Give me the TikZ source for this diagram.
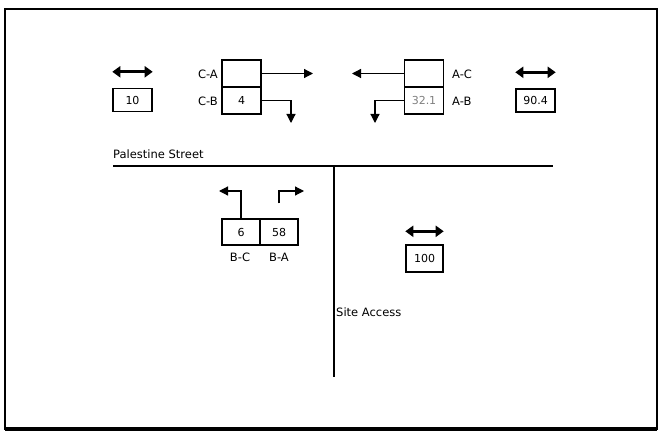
\documentclass[tikz,border=0pt]{standalone}
\usepackage{fontspec}
\setmainfont{DejaVu Sans}
\usetikzlibrary{arrows.meta}

\begin{document}
\begin{tikzpicture}[x=1pt, y=-1pt,
  cell/.style={draw, line width=1.4pt, minimum width=39pt, minimum height=27pt, inner sep=0pt, font=\fontsize{11}{13}\selectfont},
  valbox/.style={draw, line width=1.4pt, minimum width=39pt, minimum height=23pt, inner sep=0pt, font=\fontsize{11}{13}\selectfont},
  lbl/.style={inner sep=0pt, font=\fontsize{11.5}{13}\selectfont},
  turn/.style={line width=1.2pt, -{Triangle[length=9pt, width=9pt]}},
  dbl/.style={line width=3pt, {Triangle[length=8pt, width=11pt]}-{Triangle[length=8pt, width=11pt]}}]
\useasboundingbox (0,0) rectangle (661,433);
\draw[line width=2.2pt] (5,9) rectangle (657,429);
\draw[line width=3.5pt] (5,429) -- (657,429);

% street lines
\draw[line width=1.5pt] (113,166) -- (553,166);
\draw[line width=1.5pt] (334,166) -- (334,377);
\node[lbl, anchor=south west] (street) at (113,159) {Palestine Street};
\node[lbl, anchor=west] (site) at (336,312) {Site Access};

% approach C (left)
\node[valbox] (v10) at (132.5,100) {10};
\draw[dbl] ([yshift=16pt]v10.north west) -- ([yshift=16pt]v10.north east);
\node[cell] (ca) at (241.5,73.5) {};
\node[cell] (cb) at (241.5,100.5) {4};
\node[lbl, anchor=east] (lca) at (218,74) {C-A};
\node[lbl, anchor=east] (lcb) at (218,101) {C-B};
\coordinate (caend) at (313,73.5);
\coordinate (cbend) at (291,123);
\draw[turn] (ca.east) -- (caend);
\draw[turn] (cb.east) -| (cbend);

% approach A (right)
\node[valbox] (v904) at (535.5,100.5) {90.4};
\draw[dbl] ([yshift=16pt]v904.north west) -- ([yshift=16pt]v904.north east);
\node[cell] (ac) at (424,73.5) {};
\node[cell, text=gray] (ab) at (424,100.5) {32.1};
\node[lbl, anchor=west] (lac) at (452,74) {A-C};
\node[lbl, anchor=west] (lab) at (452,101) {A-B};
\coordinate (acend) at (352,73.5);
\coordinate (abend) at (375,123);
\draw[turn] (ac.west) -- (acend);
\draw[turn] (ab.west) -| (abend);

% approach B (site access)
\node[cell, minimum width=38pt, minimum height=26pt] (bc) at (241,232) {6};
\node[cell, minimum width=38pt, minimum height=26pt] (ba) at (279,232) {58};
\node[lbl] (lbc) at (240,257) {B-C};
\node[lbl] (lba) at (279,257) {B-A};
\coordinate (bcend) at (219,191);
\coordinate (baend) at (304,191);
\draw[turn] (bc.north) |- (bcend);
\draw[turn, shorten <=15pt] (ba.north) |- (baend);

\node[valbox, minimum width=37pt, minimum height=27pt] (v100) at (424.5,258.5) {100};
\draw[dbl] ([yshift=13pt]v100.north west) -- ([yshift=13pt]v100.north east);
\end{tikzpicture}
\end{document}
